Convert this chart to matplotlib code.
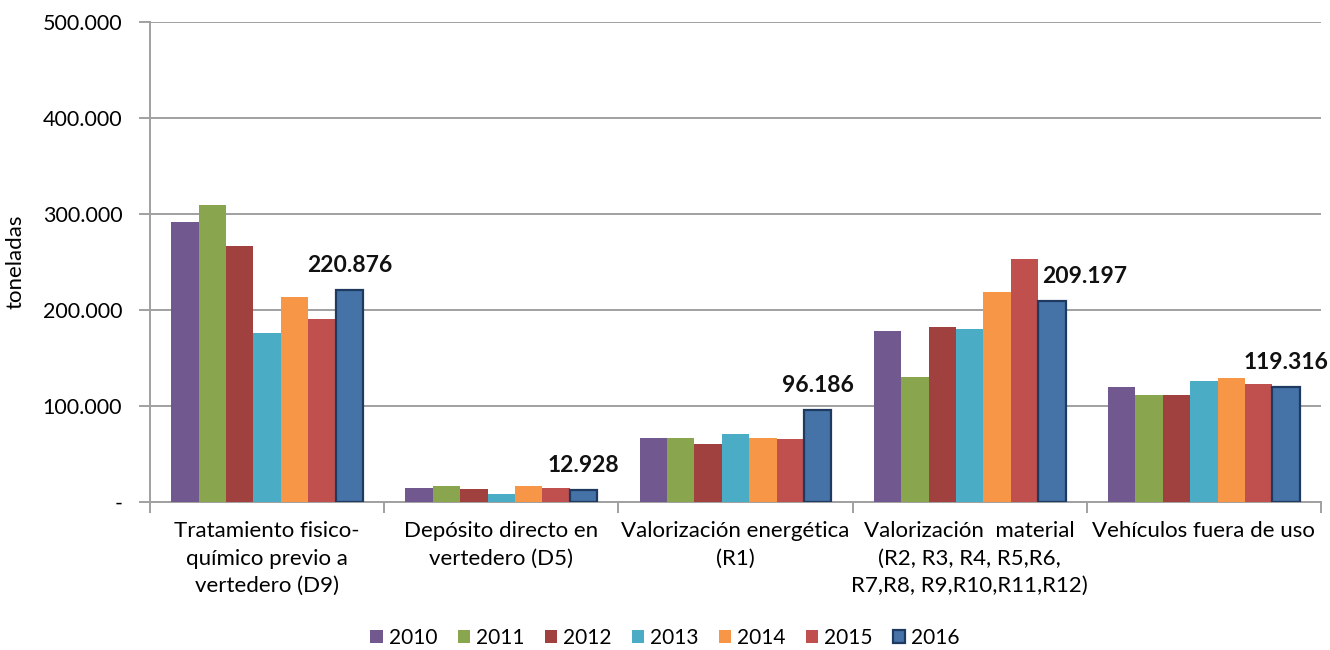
import numpy as np
import matplotlib
matplotlib.use("Agg")
import matplotlib.pyplot as plt
from matplotlib.ticker import FuncFormatter

plt.rcParams["font.family"] = ["Lato", "DejaVu Sans"]

categories = [
    "Tratamiento fisico-\nquímico previo a\nvertedero (D9)",
    "Depósito directo en\nvertedero (D5)",
    "Valorización energética\n(R1)",
    "Valorización  material\n(R2, R3, R4, R5,R6,\nR7,R8, R9,R10,R11,R12)",
    "Vehículos fuera de uso",
]
years = ["2010", "2011", "2012", "2013", "2014", "2015", "2016"]
values = {
    "2010": [292000, 14200, 67000, 177800, 119800],
    "2011": [309700, 16300, 67000, 130500, 111800],
    "2012": [267000, 13200, 60100, 182300, 111800],
    "2013": [176400, 8300, 70500, 179900, 125700],
    "2014": [213200, 16300, 67000, 218700, 129200],
    "2015": [190600, 14200, 65600, 252800, 122600],
    "2016": [220876, 12928, 96186, 209197, 119316],
}
label_texts = ["220.876", "12.928", "96.186", "209.197", "119.316"]
label_dx = [0, 0, 0, 33, 0]

colors = ["#71588F", "#89A54E", "#A0413F", "#4BACC6", "#F79646", "#C0504D", "#4572A7"]

fig = plt.figure(figsize=(13.3, 6.5), dpi=100)
ax = fig.add_axes([0.1128, 0.2277, 0.8804, 0.7385])

x = np.arange(len(categories))
bw = 0.117
for i, y in enumerate(years):
    pos = x + (i - 3) * bw
    if y == "2016":
        ax.bar(pos, values[y], bw, color=colors[i], edgecolor="#1F3A60",
               linewidth=1.6, label=y, zorder=3)
    else:
        ax.bar(pos, values[y], bw, color=colors[i], edgecolor="none", label=y, zorder=3)

for k, v in enumerate(values["2016"]):
    ax.annotate(label_texts[k], (x[k] + 3 * bw, v), xytext=(label_dx[k], 14),
                textcoords="offset pixels", ha="center", va="bottom",
                fontsize=16.5, fontweight="bold", color="#111111", zorder=4)

ax.set_xlim(-0.5, len(categories) - 0.5)
ax.set_ylim(0, 500000)
ax.set_yticks(np.arange(0, 500001, 100000))

def fmt(v, p):
    if v == 0:
        return "-"
    return f"{int(v):,}".replace(",", ".")

ax.yaxis.set_major_formatter(FuncFormatter(fmt))
ax.yaxis.grid(True, color="#a0a0a0", linewidth=1.4, zorder=0)
ax.set_axisbelow(True)

ax.set_xticks(x)
ax.set_xticklabels(categories, fontsize=16, linespacing=1.45)
ax.set_xticks(np.arange(-0.5, len(categories)), minor=True)
ax.tick_params(axis="x", which="major", length=0, pad=14)
ax.tick_params(axis="x", which="minor", length=8, color="#a0a0a0", width=1.4, direction="out")
ax.tick_params(axis="y", length=8, color="#a0a0a0", width=1.4, labelsize=15.5, pad=12)

for s in ["top", "right"]:
    ax.spines[s].set_visible(False)
ax.spines["left"].set_color("#a0a0a0")
ax.spines["left"].set_linewidth(1.4)
ax.spines["bottom"].set_color("#a0a0a0")
ax.spines["bottom"].set_linewidth(1.4)

ax.set_ylabel("toneladas", fontsize=16, labelpad=12)

ax.legend(loc="center", bbox_to_anchor=(0.44, -0.283), ncol=7, frameon=False,
          fontsize=15, handlelength=0.6, handleheight=0.6, handletextpad=0.3,
          columnspacing=0.95)

fig.savefig("out.png", dpi=100)
